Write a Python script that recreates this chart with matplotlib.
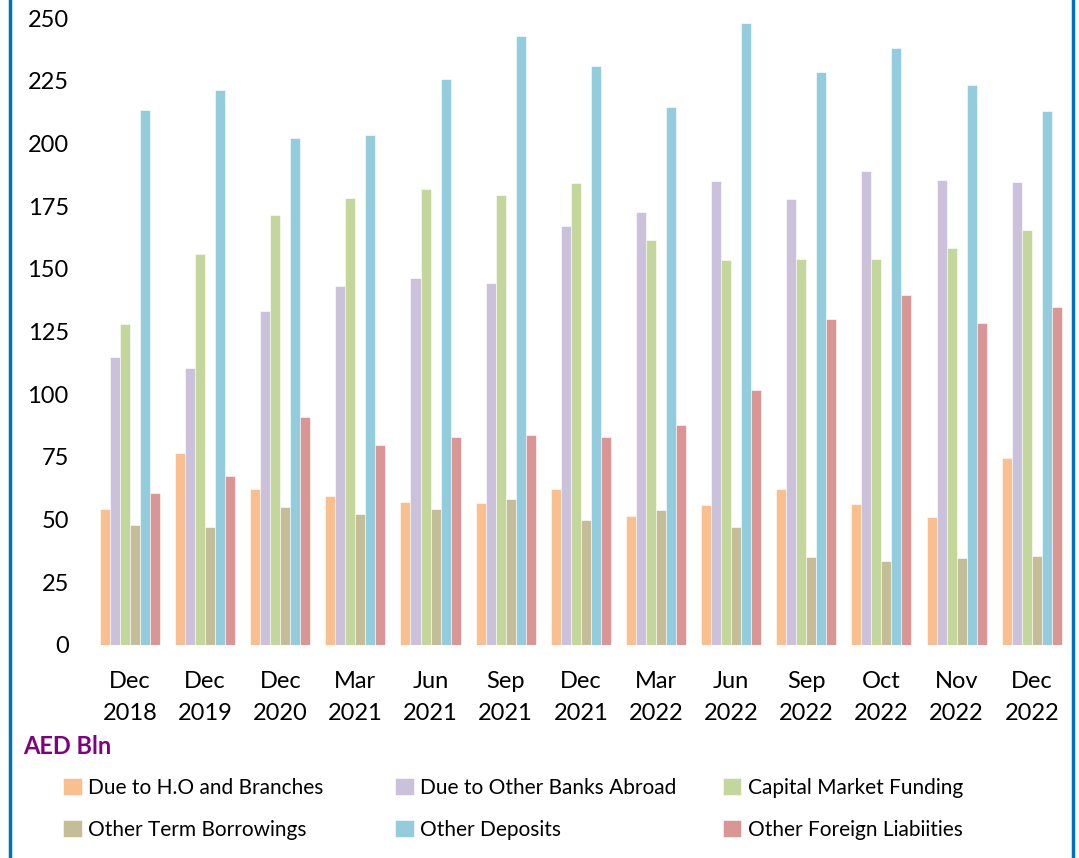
# grouped bar chart of foreign liabilities, AED Bln, Dec 2018 - Dec 2022

import numpy as np
import matplotlib
matplotlib.use("Agg")
import matplotlib.pyplot as plt
from matplotlib.lines import Line2D

plt.rcParams["font.family"] = ["Lato", "DejaVu Sans"]

# periods on the x axis
periods = ["Dec\n2018", "Dec\n2019", "Dec\n2020", "Mar\n2021", "Jun\n2021", "Sep\n2021",
           "Dec\n2021", "Mar\n2022", "Jun\n2022", "Sep\n2022", "Oct\n2022", "Nov\n2022",
           "Dec\n2022"]

# values
due_ho = [54.2, 76.6, 62.2, 59.4, 57.0, 56.6, 62.2, 51.4, 55.8, 62.2, 56.2, 51.0, 74.6]
due_banks = [114.8, 110.4, 133.2, 143.1, 146.3, 144.3, 167.1, 172.6, 185.0, 177.8, 189.0, 185.4, 184.6]
capital_market = [128.0, 155.9, 171.4, 178.2, 181.8, 179.4, 184.2, 161.5, 153.5, 153.9, 153.9, 158.3, 165.5]
term_borrowings = [47.8, 47.0, 55.0, 52.2, 54.2, 58.2, 49.8, 53.8, 47.0, 35.1, 33.5, 34.7, 35.5]
other_deposits = [213.3, 221.3, 202.2, 203.3, 225.7, 242.8, 230.9, 214.5, 248.0, 228.6, 238.0, 223.3, 212.9]
other_foreign = [60.6, 67.4, 90.9, 79.7, 82.9, 83.7, 82.9, 87.7, 101.7, 130.0, 139.6, 128.4, 134.8]

series = [
    ("Due to H.O and Branches", due_ho, "#F9BF8F"),
    ("Due to Other Banks Abroad", due_banks, "#CCC1DA"),
    ("Capital Market Funding", capital_market, "#C3D69B"),
    ("Other Term Borrowings", term_borrowings, "#C4BD97"),
    ("Other Deposits", other_deposits, "#93CDDD"),
    ("Other Foreign Liabiities", other_foreign, "#D99694"),
]

fig = plt.figure(figsize=(10.79, 8.58), dpi=100)
ax = fig.add_axes([0.0856, 0.2483, 0.9054, 0.7307])

x = np.arange(len(periods))
width = 0.8 / len(series)
handles = []
for i, (name, vals, col) in enumerate(series):
    bars = ax.bar(x - 0.4 + width * (i + 0.5), vals, width, color=col,
                  edgecolor="white", linewidth=0.4, label=name)
    handles.append(bars)

ax.set_xlim(-0.5, len(periods) - 0.5)
ax.set_ylim(0, 250)
ax.set_yticks(np.arange(0, 251, 25))
ax.set_xticks(x)
ax.set_xticklabels(periods, fontsize=17, linespacing=1.6)
ax.tick_params(axis="y", length=0, pad=17, labelsize=17)
ax.tick_params(axis="x", length=0, pad=19)
for s in ax.spines.values():
    s.set_visible(False)

fig.text(0.021, 0.130, "AED Bln", color="#800080", fontsize=17, fontweight="bold",
         va="center", ha="left")

# legend: three equal-width columns, filled row by row like the Excel original
col_x = [0.0487, 0.3568, 0.660]
for c, lx in enumerate(col_x):
    fig.legend(handles=[handles[c], handles[c + 3]], loc="lower left",
               bbox_to_anchor=(lx, 0.009), frameon=False, fontsize=15, borderpad=0,
               handlelength=0.9, handleheight=0.9, handletextpad=0.3,
               labelspacing=1.05)

# blue frame lines on the left and right edges
fig.add_artist(Line2D([0.0093, 0.0093], [0, 1], color="#0070C0", linewidth=2.5,
                      transform=fig.transFigure))
fig.add_artist(Line2D([0.9945, 0.9945], [0, 1], color="#0070C0", linewidth=2.5,
                      transform=fig.transFigure))

fig.savefig("out.png", dpi=100)
